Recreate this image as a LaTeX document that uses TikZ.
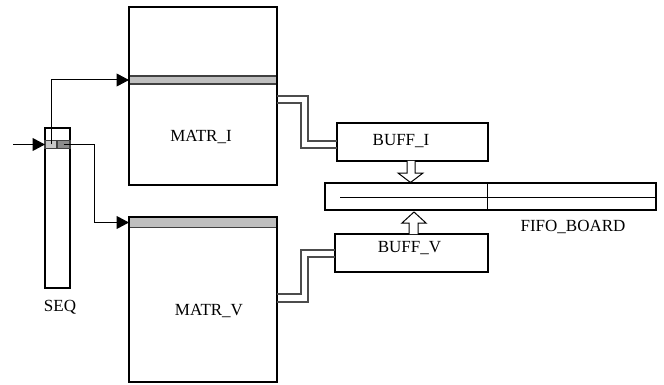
\documentclass[tikz,border=0pt]{standalone}
\usepackage{fontspec}
\setmainfont{Liberation Serif}
\usetikzlibrary{arrows.meta,calc}
\begin{document}
\begin{tikzpicture}[x=1pt,y=-1pt,
  box/.style={draw=black,line width=1.8pt,fill=white,inner sep=0pt,outer sep=0pt},
  band/.style={draw=black!75,line width=1.2pt,fill=black!25,inner sep=0pt,outer sep=0pt},
  lbl/.style={font=\fontsize{17}{20}\selectfont,inner sep=0pt},
  conn/.style={line width=1pt,draw=black},
  arr/.style={conn,arrows={-Triangle[length=12.5pt,width=13pt]}},
  dbl/.style={line width=1.1pt,draw=black!70},
  hollow/.style={draw=black,line width=1pt,fill=white,line join=miter}]
\useasboundingbox (0,0) rectangle (664,385);
% boxes
\node[box,minimum width=25pt,minimum height=160pt] (SEQ) at (57.5,208) {};
\node[band,fill=black!22,minimum width=12pt,minimum height=8pt] (seqA) at (51,144.5) {};
\node[band,fill=black!45,minimum width=13pt,minimum height=8pt] (seqB) at (63.5,144.5) {};
\node[box,minimum width=148pt,minimum height=178pt] (MATRI) at (203,96) {};
\node[band,minimum width=148pt,minimum height=8pt] (bandI) at (203,80) {};
\node[box,minimum width=148pt,minimum height=165pt] (MATRV) at (203,299.5) {};
\node[band,minimum width=148pt,minimum height=10pt] (bandV) at (203,222.5) {};
\draw[box,fill=none] (MATRV.north west) rectangle (MATRV.south east);
\draw[box,fill=none] (MATRI.north west) rectangle (MATRI.south east);
\node[box,minimum width=151pt,minimum height=38pt] (BUFFI) at (412.5,142) {};
\node[box,minimum width=153pt,minimum height=38pt] (BUFFV) at (411.5,253) {};
\node[box,minimum width=331pt,minimum height=27pt] (FIFO) at (490.5,196.5) {};
\draw[conn] (340,197) coordinate (fifoL) -- (FIFO.east |- fifoL);
\draw[conn] (487,0 |- FIFO.north) coordinate (fifoT) -- (fifoT |- FIFO.south);
% labels
\node[lbl] (tSEQ) at (60,307) {SEQ};
\node[lbl] (tMI) at (201,137) {MATR\_I};
\node[lbl] (tMV) at (209,311) {MATR\_V};
\node[lbl] (tBI) at (401,141) {BUFF\_I};
\node[lbl] (tBV) at (409.5,248) {BUFF\_V};
\node[lbl] (tFB) at (573,227) {FIFO\_BOARD};
% input arrow
\coordinate (in) at (13,144.5);
\draw[arr] (in) -- (SEQ.west |- in);
% arrows from SEQ
\draw[arr] (seqA.center) |- (bandI.west);
\coordinate (bendV) at (94,144.5);
\draw[arr] (seqB.center) -- (bendV) |- (bandV.west);
% double lines MATR_I -> BUFF_I
\draw[dbl] (MATRI.east |- 0,96) -| (308,141) -- (BUFFI.west |- 0,141);
\draw[dbl] (MATRI.east |- 0,103) -| (301,148) -- (BUFFI.west |- 0,148);
% double lines MATR_V -> BUFF_V
\draw[dbl] (MATRV.east |- 0,294) -| (301,250) -- (BUFFV.west |- 0,250);
\draw[dbl] (MATRV.east |- 0,302) -| (308,257) -- (BUFFV.west |- 0,257);
% hollow arrows
\draw[hollow] (BUFFI.south -| 407,0) -- (407,173) -- (398,173) -- (410.5,182.5) -- (423,173) -- (415,173) -- (BUFFI.south -| 415,0);
\draw[hollow] (BUFFV.north -| 409,0) -- (409,223) -- (402,223) -- (414,212) -- (426,223) -- (418,223) -- (BUFFV.north -| 418,0);
\end{tikzpicture}
\end{document}
